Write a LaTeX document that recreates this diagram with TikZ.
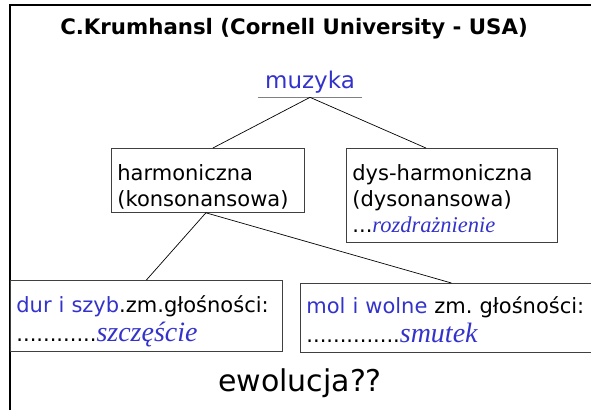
\documentclass[tikz,border=0pt]{standalone}
\usepackage{fontspec}
\setmainfont{DejaVu Sans}
\newfontfamily\corsfont{Liberation Serif}
\usepackage{xcolor}
\usepackage{tikz}
\usetikzlibrary{positioning}

\definecolor{txtblue}{RGB}{51,51,204}
\definecolor{boxgray}{RGB}{64,64,64}
\newcommand{\bl}[1]{\textcolor{txtblue}{#1}}
\newcommand{\emo}[2][28]{{\corsfont\itshape\fontsize{#1}{27}\selectfont\textcolor{txtblue}{#2}}}

\begin{document}
\begin{tikzpicture}[
			x=1pt, y=-1pt,
			boxline/.style={draw=boxgray, line width=0.8pt},
			cbox/.style={boxline, anchor=north west,
				align=left, inner xsep=6pt, inner ysep=0pt,
				font=\fontsize{21}{26}\selectfont},
			lowbox/.style={cbox, font=\fontsize{21}{29.5}\selectfont},
			link/.style={black, line width=0.7pt},
			framel/.style={black, line width=2pt},
			]
			
			\useasboundingbox (0,0) rectangle (591,410);
			
			%% ── Frame ────────────────────────────────────────────────────────────────────
			\draw[framel] (10,410) -- (10,5) -- (591,5);
			
			%% ── Title ────────────────────────────────────────────────────────────────────
			\node[font=\bfseries\fontsize{21.3}{24}\selectfont] (title) at (294,29)
			{C.Krumhansl (Cornell University - USA)};
			
			%% ── Root ─────────────────────────────────────────────────────────────────────
			\node[font=\fontsize{23}{27}\selectfont, text=txtblue,
				minimum width=104pt, inner ysep=4pt] (muzyka) at (310,82) {muzyka};
			\draw[gray, line width=1.5pt] (muzyka.south west) -- (muzyka.south east);
			
			%% ── Second level ─────────────────────────────────────────────────────────────
			\node[cbox, text width=181pt, text height=32pt, text depth=32pt] (harm) at (111,148)
			{harmoniczna\\(konsonansowa)};
			
			\node[cbox, text width=199pt, text height=32pt, text depth=62pt] (dysharm) at (346,148)
			{dys-harmoniczna\\(dysonansowa)\\...\emo[22.5]{rozdrażnienie}};
			
			%% ── Third level ──────────────────────────────────────────────────────────────
			\node[lowbox, text width=260pt, text height=32pt, text depth=39pt] (dur) at (10,280)
			{\bl{dur i szyb}.zm.głośności:\\............\emo{szczęście}};
			
			% box runs off the right edge of the page
			\node[lowbox, draw=none, text width=320pt, text height=30pt, text depth=39pt] (mol) at (300,283)
			{\bl{mol i wolne} zm.\ głośności:\\..............\emo{smutek}};
			\draw[boxline] (mol.north east) -- (mol.north west) -- (mol.south west) -- (mol.south east);
			
			%% ── Question ─────────────────────────────────────────────────────────────────
			\node[font=\fontsize{30}{34}\selectfont] (ewol) at (300,383) {ewolucja??};
			
			%% ── Links ────────────────────────────────────────────────────────────────────
			\draw[link] (muzyka.south) -- ([xshift=5pt]harm.north);
			\draw[link] (muzyka.south) -- ([xshift=-26pt]dysharm.north);
			\draw[link] ([xshift=-2pt]harm.south) -- (dur.north);
			\draw[link] ([xshift=-2pt]harm.south) -- ([xshift=-15pt]mol.north);
			
		\end{tikzpicture}
\end{document}
